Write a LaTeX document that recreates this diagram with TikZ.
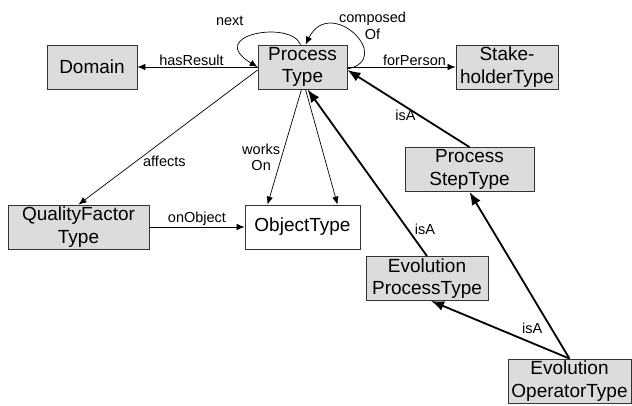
\documentclass[tikz,border=0pt]{standalone}
\usepackage{fontspec}
\setmainfont{Liberation Sans}
\usepackage{tikz}
\usetikzlibrary{arrows.meta}
\definecolor{conceptgray}{HTML}{DCDCDC}
\tikzstyle{concept}=[draw=black!80, fill=conceptgray, line width=0.8pt, inner sep=0, minimum height=44pt, align=center, font=\fontsize{19}{22.5}\selectfont]
\tikzstyle{wconcept}=[concept, fill=white]
\tikzstyle{relation}=[-{Latex[length=8pt, width=6.5pt]}, line width=0.7pt]
\tikzstyle{isa}=[-{Latex[length=13pt, width=10pt]}, line width=1.8pt]
\tikzstyle{rlabel}=[inner sep=1pt, align=center, font=\fontsize{14.5}{16.5}\selectfont]
\tikzstyle{ontology}=[x=1pt, y=-1pt,
                      % Keep the page at the size of the original drawing.
                      execute at begin picture={\useasboundingbox (0, 0) rectangle (632, 405);}]

\begin{document}
\begin{tikzpicture}[ontology]
        \node[concept, minimum width=90pt]   (domain) at (92, 67)     {Domain};
        \node[concept, minimum width=89pt]   (ptype)  at (302.5, 67)  {Process\\Type};
        \node[concept, minimum width=102pt]  (shtype) at (507, 67)    {Stake-\\holderType};
        \node[concept, minimum width=141pt]  (qftype) at (78.5, 227)  {QualityFactor\\Type};
        \node[wconcept, minimum width=115pt] (otype)  at (302.5, 227) {ObjectType};
        \node[concept, minimum width=129pt]  (pstype) at (469.5, 169.5) {Process\\StepType};
        \node[concept, minimum width=122pt]  (eptype) at (427, 278.5) {Evolution\\ProcessType};
        \node[concept, minimum width=123pt]  (eotype) at (569.5, 381) {Evolution\\OperatorType};
        \draw[relation] (ptype.west) -- node[rlabel, above, pos=0.55] {hasResult} (domain.east);
        \draw[relation] (ptype.east) -- node[rlabel, above, pos=0.62] {forPerson} (shtype.west);
        \draw[relation] ([xshift=-2pt]ptype.north) .. controls +(-10, -25) and +(-53, -32) .. node[rlabel, pos=0.55, anchor=south east, xshift=-6pt, yshift=9pt] {next} (ptype.west);
        \draw[relation] ([yshift=-2pt]ptype.east) .. controls +(48, -10) and +(25, -50) .. node[rlabel, pos=0.4, anchor=south, xshift=12pt, yshift=1pt] {composed\\Of} ([xshift=3pt]ptype.north);
        \draw[relation] ([yshift=-3pt]ptype.west) -- node[rlabel, pos=0.68, right=6pt] {affects} (qftype.north);
        \draw[relation] ([xshift=-1pt]ptype.south) -- node[rlabel, pos=0.59, left] {works\\On} ([xshift=-35pt]otype.north);
        \draw[relation] ([xshift=3pt]ptype.south) -- ([xshift=35pt]otype.north);
        \draw[relation] (qftype.east) -- node[rlabel, above] {onObject} (otype.west);
        \draw[isa] (eptype.north) -- node[rlabel, pos=0.16, right=5pt] {isA} ([xshift=5pt]ptype.south);
        \draw[isa] (pstype.north) -- node[rlabel, pos=0.5, below, xshift=-3pt] {isA} ([yshift=-3pt]ptype.east);
        \draw[isa] (eotype.north) -- (pstype.south);
        \draw[isa] (eotype.north) -- node[rlabel, pos=0.27, above=7pt] {isA} ([xshift=4pt]eptype.south);
    \end{tikzpicture}
\end{document}
